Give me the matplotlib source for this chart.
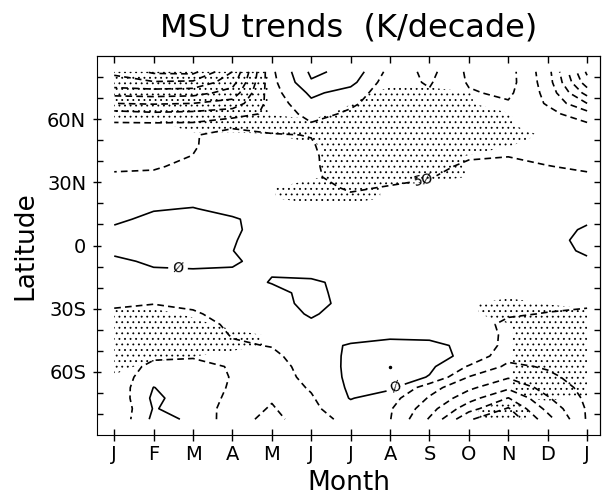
import numpy as np
import matplotlib
matplotlib.use('Agg')
import matplotlib.pyplot as plt

plt.rcParams['font.family'] = 'DejaVu Sans'
plt.rcParams['hatch.color'] = 'black'
plt.rcParams['hatch.linewidth'] = 0.6

# latitude band centres, south to north
lats = np.arange(-82.5, 83, 5.0)
month_labels = ['J', 'F', 'M', 'A', 'M', 'J', 'J', 'A', 'S', 'O', 'N', 'D', 'J']

# MSU trend profiles (K/decade) per month, 82.5S -> 82.5N
jan = [-0.95, -0.95, -0.9, -0.85, -0.8, -0.85, -0.9, -0.9, -0.85, -0.75, -0.62, -0.4,
       -0.3, -0.25, -0.2, -0.1, 0.1, 0.2, 0.08, -0.1, -0.2, -0.3, -0.38, -0.45,
       -0.55, -0.65, -0.75, -0.85, -0.93, -1.3, -2.0, -2.7, -3.3, -3.6]
feb = [0.12, 0.03, 0.1, 0.01, -0.2, -0.35, -0.6, -0.75, -0.8, -0.75, -0.62, -0.49,
       -0.35, -0.25, -0.06, 0.08, 0.15, 0.2, 0.22, 0.12, -0.04, -0.2, -0.3, -0.4,
       -0.55, -0.65, -0.75, -0.85, -0.93, -1.4, -2.05, -2.75, -3.45, -4.1]
mar = [-0.06, -0.2, -0.25, -0.25, -0.3, -0.3, -0.56, -0.75, -0.8, -0.72, -0.55, -0.42,
       -0.35, -0.25, -0.04, 0.1, 0.12, 0.15, 0.2, 0.18, 0.02, -0.15, -0.25, -0.3,
       -0.38, -0.49, -0.55, -0.56, -0.92, -1.35, -2.0, -2.7, -3.4, -4.15]
apr = [-0.8, -0.7, -0.6, -0.55, -0.52, -0.55, -0.58, -0.56, -0.47, -0.4, -0.35, -0.3,
       -0.35, -0.4, -0.08, 0.1, 0.01, 0.05, 0.1, 0.05, -0.15, -0.25, -0.3, -0.3,
       -0.3, -0.3, -0.2, -0.2, -0.7, -1.2, -1.8, -2.3, -2.7, -3.0]
may = [-1.15, -1.05, -0.95, -0.8, -0.75, -0.7, -0.6, -0.48, -0.38, -0.4, -0.45, -0.4,
       -0.3, 0.05, -0.05, -0.3, -0.35, -0.35, -0.3, -0.2, -0.2, -0.25, -0.3, -0.3,
       -0.3, -0.3, -0.35, -0.45, -0.8, -0.9, -0.8, -0.7, -0.65, -0.6]
jun = [-0.7, -0.6, -0.55, -0.45, -0.35, -0.3, -0.25, -0.2, -0.2, -0.15, 0.1, 0.3,
       0.3, 0.08, -0.15, -0.25, -0.3, -0.3, -0.3, -0.3, -0.3, -0.3, -0.35, -0.42,
       -0.4, -0.4, -0.45, -0.52, -0.55, -0.3, -0.1, 0.1, 0.45, 0.6]
jul = [-0.35, -0.2, 0.03, 0.08, 0.1, 0.1, 0.08, 0.05, -0.2, -0.3, -0.4, -0.3,
       -0.4, -0.15, -0.2, -0.25, -0.25, -0.25, -0.25, -0.28, -0.3, -0.42, -0.56, -0.7,
       -0.85, -0.9, -0.9, -0.85, -0.75, -0.6, -0.4, -0.2, 0.15, 0.35]
aug = [-0.48, -0.45, -0.3, 0.1, 0.3, 0.35, 0.3, 0.15, -0.1, -0.2, -0.3, -0.3,
       -0.3, -0.25, -0.25, -0.25, -0.25, -0.25, -0.25, -0.25, -0.3, -0.35, -0.47, -0.62,
       -0.75, -0.85, -0.9, -0.9, -0.9, -0.88, -0.85, -0.85, -0.8, -0.666]
sep = [-1.55, -1.3, -1.05, -0.8, -0.03, 0.1, 0.15, 0.1, -0.1, -0.2, -0.25, -0.25,
       -0.25, -0.25, -0.25, -0.25, -0.25, -0.25, -0.25, -0.25, -0.3, -0.35, -0.42, -0.52,
       -0.65, -0.75, -0.85, -0.9, -0.9, -0.9, -0.92, -0.95, -1.05, -1.15]
oct_ = [-2.95, -2.3, -1.8, -1.4, -1.02, -0.55, -0.1, -0.1, -0.2, -0.3, -0.35, -0.35,
        -0.3, -0.3, -0.25, -0.25, -0.25, -0.25, -0.25, -0.25, -0.28, -0.3, -0.32, -0.35,
        -0.4, -0.56, -0.65, -0.7, -0.72, -0.7, -0.65, -0.55, -0.45, -0.4]
nov = [-3.4, -3.05, -2.52, -1.9, -1.45, -1.1, -0.85, -0.65, -0.6, -0.6, -0.45, -0.35,
       -0.3, -0.3, -0.3, -0.3, -0.3, -0.3, -0.3, -0.3, -0.3, -0.3, -0.3, -0.32,
       -0.38, -0.51, -0.6, -0.65, -0.65, -0.62, -0.55, -0.4, -0.3, -0.3]
dec = [-2.2, -1.85, -1.55, -1.3, -1.1, -0.95, -0.8, -0.7, -0.65, -0.6, -0.52, -0.4,
       -0.35, -0.3, -0.3, -0.3, -0.25, -0.25, -0.25, -0.3, -0.3, -0.32, -0.38, -0.42,
       -0.49, -0.58, -0.65, -0.7, -0.75, -0.85, -1.05, -1.15, -1.25, -1.3]

# significance (stippled where > 0.5), digit/9 per latitude band, 82.5S -> 82.5N
sig_jan = "0000" "3" "999999" "000000000000000000" "99999"
sig_feb = "00000" "0" "99999" "00000000000000000" "2" "99999"
sig_mar = "000000" "5" "999" "2" "0000000000000000" "3" "999999"
sig_apr = "0000000" "99" "000000000000000000" "3" "999999"
sig_may = "0000000" "33" "000000000000" "44" "0000" "4" "9" "44444"
sig_jun = "000000000000000000000" "99" "3333" "99" "00000"
sig_jul = "000000000000000000000" "999999999" "4" "000"
sig_aug = "000000000000000000000" "33" "999999999" "00"
sig_sep = "00000000000000000000000" "999999999" "00"
sig_oct = "33" "00000000" "33" "00000000000" "444" "9999" "55" "00"
sig_nov = "99" "3" "4444444" "99" "00000000000000" "5" "9" "55" "0000"
sig_dec = "00" "6" "99999999" "4" "000000000000000" "3" "000000"
sig_jan2 = "00" "3" "99999999" "00000000000000000000000"

# contour-label positions and the marked maximum (month, lat)
zero_label_pos = [(1.62, -10.2), (7.18, -69.6)]
half_label_pos = [(7.85, 31.0)]
peak_month, peak_lat = 7.0, -57.5

months = np.arange(13)
trend = np.array([jan, feb, mar, apr, may, jun, jul, aug, sep, oct_, nov, dec, jan]).T
sig_cols = [sig_jan, sig_feb, sig_mar, sig_apr, sig_may, sig_jun, sig_jul,
            sig_aug, sig_sep, sig_oct, sig_nov, sig_dec, sig_jan2]
sig = np.array([[int(c) / 9 for c in s] for s in sig_cols]).T

fig = plt.figure(figsize=(6.08, 5.0), dpi=100)
ax = fig.add_axes([0.160, 0.13, 0.827, 0.758])

# stippling
ax.contourf(months, lats, sig, levels=[0.5, 2], colors='none', hatches=['...'])

# contours: negative dashed, zero and positive solid
dash = (0, (4, 2.5))
other = [-4.0, -3.5, -3.0, -2.5, -2.0, -1.5, -1.0, 0.5]
styles = [dash if l < 0 else 'solid' for l in other]
ax.contour(months, lats, trend, levels=other, colors='black',
           linewidths=1.2, linestyles=styles)
cs_half = ax.contour(months, lats, trend, levels=[-0.5], colors='black',
                     linewidths=1.2, linestyles=[dash])
cs_zero = ax.contour(months, lats, trend, levels=[0.0], colors='black',
                     linewidths=1.2, linestyles='solid')
ax.clabel(cs_zero, manual=zero_label_pos, fmt={0.0: 'Ø'}, fontsize=10, inline=True)
ax.clabel(cs_half, manual=half_label_pos, fmt={-0.5: '5Ø'}, fontsize=10, inline=True)
ax.plot(peak_month, peak_lat, 'k.', ms=3)

ax.set_xlim(-0.43, 12.33)
ax.set_ylim(-90, 90)
ax.set_xticks(months)
ax.set_xticklabels(month_labels)
ax.set_yticks([-60, -30, 0, 30, 60])
ax.set_yticklabels(['60S', '30S', '0', '30N', '60N'])
ax.set_yticks(np.arange(-80, 81, 10), minor=True)
ax.tick_params(axis='x', which='major', direction='inout', length=9, width=1,
               labelsize=14, pad=3)
ax.tick_params(axis='y', which='major', direction='inout', length=6, width=1,
               labelsize=14, pad=5)
ax.tick_params(axis='y', which='minor', direction='in', length=4, width=1)

top = ax.secondary_xaxis('top')
top.set_xticks(months)
top.set_xticklabels([])
top.tick_params(direction='in', length=5, width=1)
right = ax.secondary_yaxis('right')
right.set_yticks(np.arange(-80, 81, 10))
right.set_yticklabels([])
right.tick_params(direction='in', length=4, width=1)

ax.set_title('MSU trends  (K/decade)', fontsize=23, pad=14)
ax.set_xlabel('Month', fontsize=19, labelpad=4)
ax.set_ylabel('Latitude', fontsize=19, labelpad=6)

fig.savefig('out.png', dpi=100)
